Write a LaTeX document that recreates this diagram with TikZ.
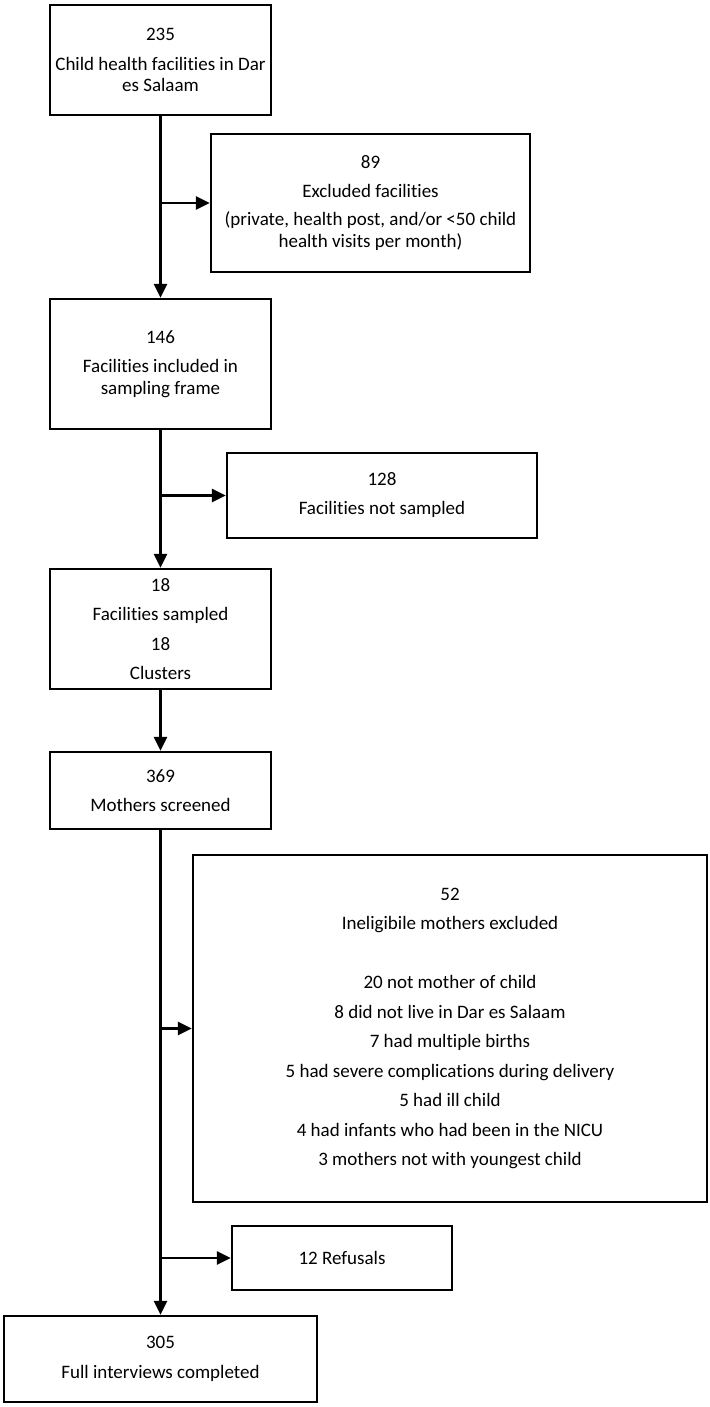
\documentclass[tikz,border=0pt]{standalone}
\usepackage{fontspec}
\setmainfont{Carlito}[Ligatures=NoCommon]
\usetikzlibrary{arrows.meta, positioning}

\begin{document}
\begin{tikzpicture}[x=1pt, y=-1pt,
  box/.style={draw, line width=2.4pt, align=center, inner sep=0pt,
    font=\fontsize{19}{21.5}\selectfont},
  arr/.style={line width=2.6pt, -{Triangle[length=14pt,width=13pt]}}]
\useasboundingbox (0,0) rectangle (709,1407);

% Facilities
\node[box, minimum width=221pt, minimum height=110pt] (allfac) at (160.5,60)
  {235\\[8pt]Child health facilities in Dar\\es Salaam};
\node[box, minimum width=319pt, minimum height=138pt] (exclfac) at (370.5,203)
  {89\\[7.5pt]Excluded facilities\\[7pt](private, health post, and/or <50 child\\health visits per month)};
\node[box, minimum width=221pt, minimum height=130pt] (frame) at (160.5,364)
  {146\\[8pt]Facilities included in\\sampling frame};
\node[box, minimum width=310pt, minimum height=85pt] (notsamp) at (382,495.5)
  {128\\[7.5pt]Facilities not sampled};
\node[box, minimum width=221pt, minimum height=120pt] (sampled) at (160.5,629)
  {18\\[8pt]Facilities sampled\\[8pt]18\\[8pt]Clusters};

% Mothers
\node[box, minimum width=221pt, minimum height=77pt] (screened) at (160.5,790.5)
  {369\\[8pt]Mothers screened};
\node[box, minimum width=514pt, minimum height=347pt] (inelig) at (450,1028.5)
  {52\\[8pt]Ineligibile mothers excluded\\[37.5pt]
   20 not mother of child\\[8pt]
   8 did not live in Dar es Salaam\\[8pt]
   7 had multiple births\\[8pt]
   5 had severe complications during delivery\\[8pt]
   5 had ill child\\[8pt]
   4 had infants who had been in the NICU\\[8pt]
   3 mothers not with youngest child};
\node[box, minimum width=220pt, minimum height=64pt] (refuse) at (342,1258)
  {12 Refusals};
\node[box, minimum width=313pt, minimum height=86pt] (complete) at (160.5,1359)
  {305\\[8pt]Full interviews completed};

% Flow
\draw[arr] (allfac) -- (frame);
\draw[arr] (allfac.south |- exclfac.west) -- (exclfac.west);
\draw[arr] (frame) -- (sampled);
\draw[arr] (frame.south |- notsamp.west) -- (notsamp.west);
\draw[arr] (sampled) -- (screened);
\draw[arr] (screened) -- (complete);
\draw[arr] (screened.south |- inelig.west) -- (inelig.west);
\draw[arr] (screened.south |- refuse.west) -- (refuse.west);
\end{tikzpicture}
\end{document}
